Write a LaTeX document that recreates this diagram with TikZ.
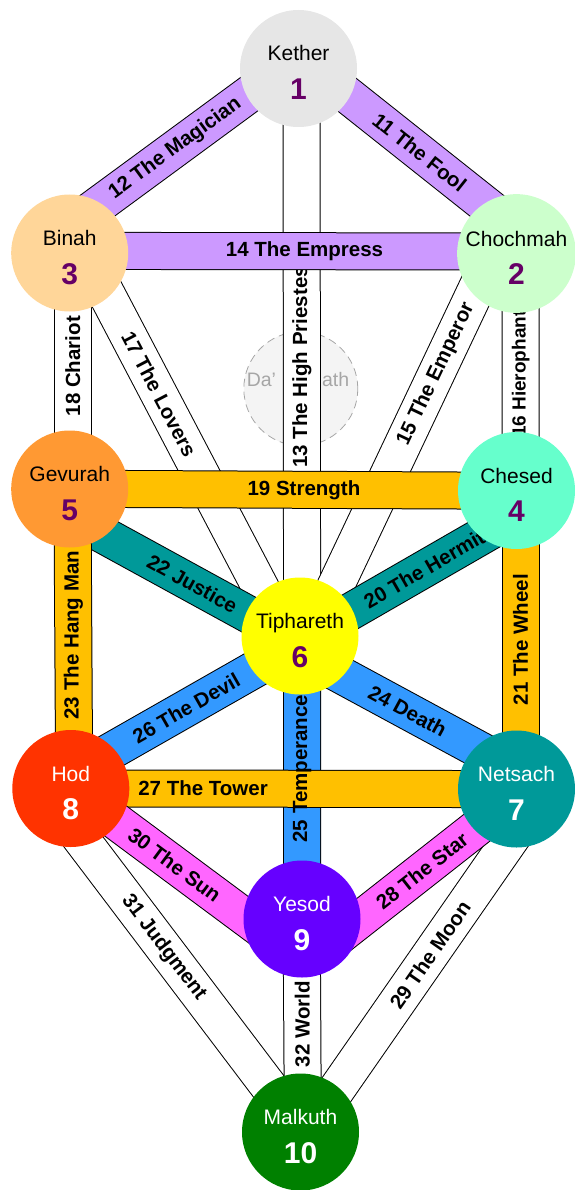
\documentclass[tikz,border=0pt]{standalone}
\usepackage{fontspec}
\setmainfont{Liberation Sans}
\usetikzlibrary{backgrounds}
\definecolor{ketherGray}{HTML}{E6E6E6}
\definecolor{binahPeach}{HTML}{FFD699}
\definecolor{chochmahGreen}{HTML}{CCFFCC}
\definecolor{gevurahOrange}{HTML}{FF9933}
\definecolor{chesedAqua}{HTML}{66FFCC}
\definecolor{tipharethYellow}{HTML}{FFFF00}
\definecolor{hodRed}{HTML}{FF3300}
\definecolor{netsachTeal}{HTML}{009999}
\definecolor{yesodViolet}{HTML}{6600FF}
\definecolor{malkuthGreen}{HTML}{008000}
\definecolor{numPurple}{HTML}{660066}
\definecolor{daathGray}{HTML}{A6A6A6}
\definecolor{daathFill}{HTML}{F4F4F4}
\definecolor{pathLilac}{HTML}{CC99FF}
\definecolor{pathAmber}{HTML}{FFC000}
\definecolor{pathTeal}{HTML}{009999}
\definecolor{pathBlue}{HTML}{3399FF}
\definecolor{pathPink}{HTML}{FF66FF}
\newcommand\NumFont{\fontsize{30}{36}\selectfont\bfseries}
\tikzset{
  sephira/.style = {circle, inner sep=0pt, minimum size=117pt, align=center,
    font=\fontsize{21}{38.5}\selectfont, text height=62pt, text depth=0pt},
  LightSephira/.style = {sephira, fill=#1},
  DarkSephira/.style = {sephira, fill=#1, text=white},
  daath/.style = {circle, minimum size=114pt, fill=daathFill, draw=daathGray, line width=0.8pt, dash pattern=on 8pt off 5pt},
  daathtext/.style = {inner sep=0pt, text=daathGray, font=\fontsize{19.5}{24}\selectfont},
  band/.style = {draw=black, line width=1pt, double=#1, double distance=36pt, shorten <=-28pt, shorten >=-28pt},
  bandlabel/.style = {inner sep=0pt, font=\fontsize{20.5}{24}\selectfont\bfseries}
}
\begin{document}
\begin{tikzpicture}[x=1pt,y=-1pt]
  \useasboundingbox (0,0) rectangle (574,1190);
  \node[LightSephira=ketherGray] (kether) at (298.5,68.5) {Kether\\{\NumFont\color{numPurple}1}};
  \node[LightSephira=binahPeach] (binah) at (69.7,253) {Binah\\{\NumFont\color{numPurple}3}};
  \node[LightSephira=chochmahGreen] (chochmah) at (516.5,253.5) {Chochmah\\{\NumFont\color{numPurple}2}};
  \node[LightSephira=gevurahOrange] (gevurah) at (69.7,489) {Gevurah\\{\NumFont\color{numPurple}5}};
  \node[LightSephira=chesedAqua] (chesed) at (516.5,490.5) {Chesed\\{\NumFont\color{numPurple}4}};
  \node[LightSephira=tipharethYellow] (tiphareth) at (300,636) {Tiphareth\\{\NumFont\color{numPurple}6}};
  \node[DarkSephira=hodRed] (hod) at (70.8,788.5) {Hod\\{\NumFont 8}};
  \node[DarkSephira=netsachTeal] (netsach) at (516.5,789) {Netsach\\{\NumFont 7}};
  \node[DarkSephira=yesodViolet] (yesod) at (302,919) {Yesod\\{\NumFont 9}};
  \node[DarkSephira=malkuthGreen] (malkuth) at (300.5,1132) {Malkuth\\{\NumFont 10}};
  \begin{pgfonlayer}{background}
    \node[daath] (daath) at (300.8,388.7) {};
    \node[daathtext] (daathname) at (298,380) {Da’\hspace{46pt}ath};
    \draw[band=pathLilac] (kether.-29) -- (chochmah.123) node[bandlabel, sloped, pos=0.52] (p11) {11 The Fool};
    \draw[band=pathLilac] (kether.208) -- (binah.58) node[bandlabel, sloped, pos=0.49] (p12) {12 The Magician};
    \draw[band=white] (kether.-87) -- (tiphareth.88) node[bandlabel, rotate=90, pos=0.52] (p13) {13 The High Priestess};
    \draw[band=pathLilac] (binah.2) -- (chochmah.178) node[bandlabel, pos=0.536] (p14) {14 The Empress};
    \draw[band=white] (chochmah.224) -- (tiphareth.54) node[bandlabel, sloped, pos=0.27] (p15) {15 The Emperor};
    \draw[band=white] (chochmah.-86) -- (chesed.86) node[bandlabel, font=\fontsize{19}{24}\selectfont\bfseries, rotate=90, pos=0.51] (p16) {16 Hierophant};
    \draw[band=white] (binah.-49) -- (tiphareth.130) node[bandlabel, sloped, pos=0.33] (p17) {17 The Lovers};
    \draw[band=white] (binah.-87) -- (gevurah.87) node[bandlabel, rotate=90, pos=0.46] (p18) {18 Chariot};
    \draw[band=pathAmber] (gevurah.0) -- (chesed.180) node[bandlabel, pos=0.533] (p19) {19 Strength};
    \draw[band=pathTeal] (chesed.232) -- (tiphareth.26) node[bandlabel, sloped, pos=0.44] (p20) {20 The Hermit};
    \draw[band=pathTeal] (gevurah.-53) -- (tiphareth.157) node[bandlabel, sloped, pos=0.62] (p22) {22 Justice};
    \draw[band=pathAmber] (chesed.-86) -- (netsach.86) node[bandlabel, rotate=90, pos=0.5] (p21) {21 The Wheel};
    \draw[band=pathAmber] (gevurah.-87) -- (hod.87) node[bandlabel, rotate=90, pos=0.48] (p23) {23 The Hang Man};
    \draw[band=pathBlue] (tiphareth.-43) -- (netsach.135) node[bandlabel, sloped, pos=0.49] (p24) {24 Death};
    \draw[band=pathBlue] (tiphareth.-144) -- (hod.42) node[bandlabel, sloped, pos=0.48] (p26) {26 The Devil};
    \draw[band=pathBlue] (tiphareth.-88) -- (yesod.90);
    \draw[band=pathAmber] (hod.0) -- (netsach.180) node[bandlabel, pos=0.224] (p27) {27 The Tower};
    \path (tiphareth.-88) -- (yesod.90) node[bandlabel, rotate=90, pos=0.446] (p25) {25 Temperance};
    \draw[band=white] (netsach.259) -- (malkuth.50) node[bandlabel, sloped, pos=0.45] (p29) {29 The Moon};
    \draw[band=white] (hod.-75) -- (malkuth.125) node[bandlabel, sloped, pos=0.43] (p31) {31 Judgment};
    \draw[band=white] (yesod.-90) -- (malkuth.88) node[bandlabel, rotate=90, pos=0.485] (p32) {32 World};
    \draw[band=pathPink] (yesod.0) -- (netsach.224) node[bandlabel, sloped, pos=0.54] (p28) {28 The Star};
    \draw[band=pathPink] (hod.-36) -- (yesod.177) node[bandlabel, sloped, pos=0.45] (p30) {30 The Sun};
  \end{pgfonlayer}
\end{tikzpicture}
\end{document}
